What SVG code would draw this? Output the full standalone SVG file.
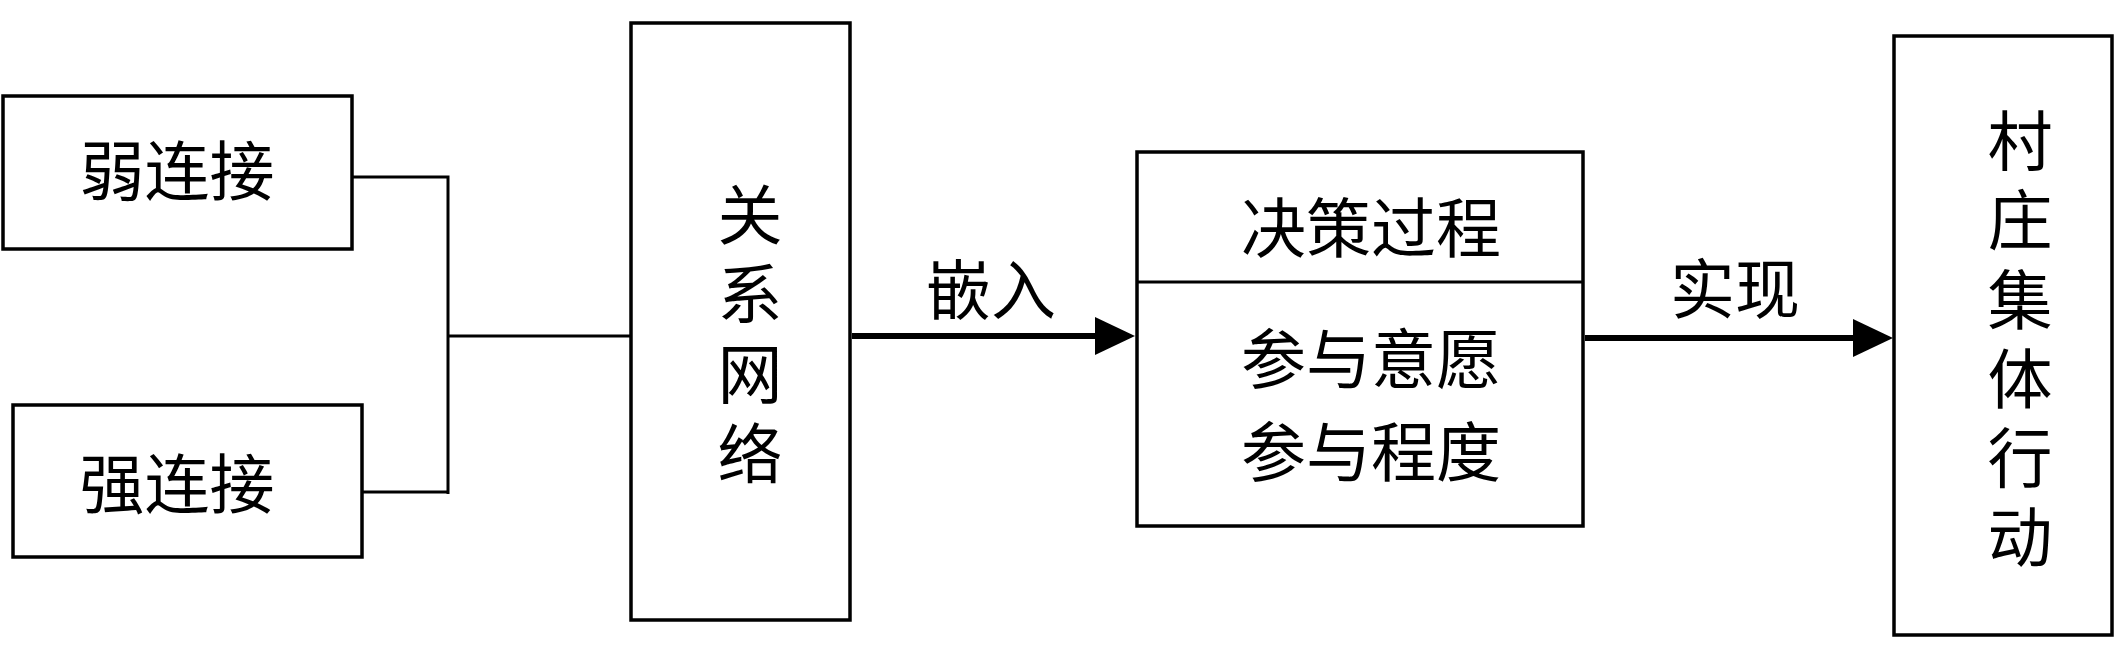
<svg xmlns="http://www.w3.org/2000/svg" width="2123" height="658" viewBox="0 0 2123 658">
<style>
.box{fill:#fff;stroke:#000;stroke-width:3.5}
.ln{fill:none;stroke:#000;stroke-width:3}
.arr{fill:none;stroke:#000;stroke-width:6}
.t{font-family:"Noto Sans CJK SC","Noto Sans CJK JP",sans-serif;font-size:65px;fill:#000;text-anchor:middle}
</style>
<defs>
<marker id="ah" markerUnits="userSpaceOnUse" viewBox="0 0 40 38" markerWidth="40" markerHeight="38" refX="1" refY="19" orient="auto">
<path d="M0,0 L40,19 L0,38 Z" fill="#000"/>
</marker>
</defs>
<rect width="2123" height="658" fill="#fff"/>
<g id="connectors">
<polyline class="ln" points="352,177 448,177 448,494"/>
<polyline class="ln" points="362,492 448,492"/>
<line class="ln" x1="448" y1="336" x2="631" y2="336"/>
<line class="arr" x1="852" y1="336" x2="1096" y2="336" marker-end="url(#ah)"/>
<line class="arr" x1="1585" y1="338" x2="1854" y2="338" marker-end="url(#ah)"/>
</g>
<g id="weak">
<rect class="box" x="3" y="96" width="349" height="153"/>
<text class="t" x="177" y="195">弱连接</text>
</g>
<g id="strong">
<rect class="box" x="13" y="405" width="349" height="152"/>
<text class="t" x="177" y="508">强连接</text>
</g>
<g id="network">
<rect class="box" x="631" y="23" width="219" height="597"/>
<text class="t" x="750" y="239">关</text>
<text class="t" x="750" y="318">系</text>
<text class="t" x="750" y="398">网</text>
<text class="t" x="750" y="478">络</text>
</g>
<g id="label-embed">
<text class="t" x="991" y="314">嵌入</text>
</g>
<g id="decision">
<rect class="box" x="1137" y="152" width="446" height="374"/>
<line class="ln" x1="1137" y1="282" x2="1583" y2="282"/>
<text class="t" x="1371" y="252">决策过程</text>
<text class="t" x="1371" y="383">参与意愿</text>
<text class="t" x="1371" y="476">参与程度</text>
</g>
<g id="label-realize">
<text class="t" x="1735" y="313">实现</text>
</g>
<g id="collective">
<rect class="box" x="1894" y="36" width="218" height="599"/>
<text class="t" x="2020" y="165">村</text>
<text class="t" x="2020" y="244">庄</text>
<text class="t" x="2020" y="324">集</text>
<text class="t" x="2020" y="403">体</text>
<text class="t" x="2020" y="482">行</text>
<text class="t" x="2020" y="561">动</text>
</g>
</svg>
